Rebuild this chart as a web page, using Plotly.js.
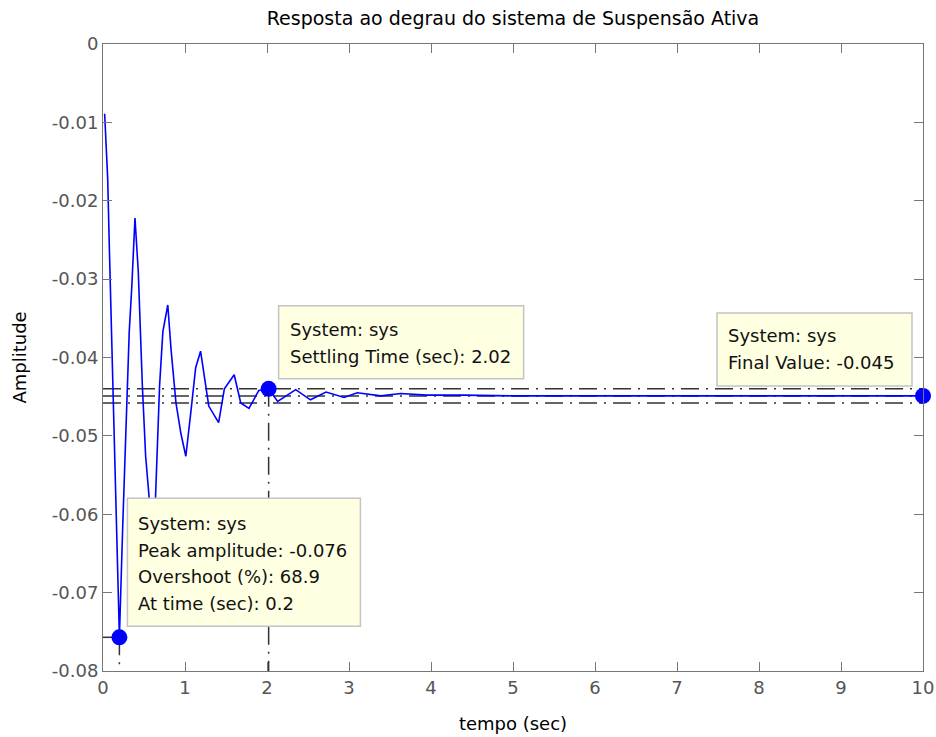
<!DOCTYPE html>
<html>
<head>
<meta charset="utf-8">
<script src="https://cdn.plot.ly/plotly-3.0.1.min.js"></script>
<style>html,body{margin:0;padding:0;background:#fff;}#chart{width:936px;height:737px;}</style>
</head>
<body>
<div id="chart"></div>
<script>
// ---- data ----
const timeSec = [0.02, 0.057, 0.077, 0.097, 0.118, 0.146, 0.167, 0.19, 0.2, 0.24, 0.28, 0.32, 0.35, 0.39,
  0.43, 0.48, 0.52, 0.57, 0.60, 0.64, 0.69, 0.73, 0.79, 0.83, 0.89, 0.95, 1.01, 1.07, 1.13, 1.19,
  1.29, 1.41, 1.48, 1.60, 1.68, 1.78, 1.90, 2.02, 2.13, 2.35, 2.53, 2.72, 2.94, 3.10, 3.39, 3.63,
  3.95, 4.4, 5.0, 10.0];
const amplitude = [-0.0089, -0.0171, -0.0258, -0.0344, -0.0440, -0.0526, -0.0617, -0.0722, -0.0757, -0.0617,
  -0.0480, -0.0367, -0.0312, -0.0222, -0.0290, -0.0436, -0.0526, -0.0590, -0.0625, -0.0580, -0.0436,
  -0.0367, -0.0333, -0.0390, -0.0458, -0.0497, -0.0526, -0.0471, -0.0413, -0.0392, -0.0462, -0.0483,
  -0.0440, -0.0422, -0.0458, -0.0465, -0.0442, -0.0440, -0.0456, -0.0441, -0.0454, -0.0444, -0.0451,
  -0.0445, -0.0449, -0.0446, -0.0448, -0.0448, -0.0449, -0.0449];

const peakTime = 0.2, peakAmp = -0.0757;
const settleTime = 2.02, settleAmp = -0.0440;
const finalTime = 10, finalValue = -0.0449;
const settleUpper = -0.0440, settleLower = -0.0458;

const xTicks = [0,1,2,3,4,5,6,7,8,9,10];
const xTickLabels = ['0','1','2','3','4','5','6','7','8','9','10'];
const yTicks = [0,-0.01,-0.02,-0.03,-0.04,-0.05,-0.06,-0.07,-0.08];
const yTickLabels = ['0','-0.01','-0.02','-0.03','-0.04','-0.05','-0.06','-0.07','-0.08'];

const peakLines = ['System: sys', 'Peak amplitude: -0.076', 'Overshoot (%): 68.9', 'At time (sec): 0.2'];
const settleLines = ['System: sys', 'Settling Time (sec): 2.02'];
const finalLines = ['System: sys', 'Final Value: -0.045'];

const titleText = 'Resposta ao degrau do sistema de Suspensão Ativa';
const xTitle = 'tempo (sec)';
const yTitle = 'Amplitude';

// ---- styles ----
const FONT = 'DejaVu Sans, Verdana, sans-serif';
const refLine = {color: '#333333', width: 1.5, dash: '18px,7px,2px,7px'};
const xMin = xTicks[0], xMax = xTicks[xTicks.length-1];
const yMin = yTicks[yTicks.length-1];

const traces = [
  {x: [xMin, xMax], y: [settleUpper, settleUpper], mode: 'lines', line: refLine, hoverinfo: 'skip'},
  {x: [xMin, xMax], y: [settleLower, settleLower], mode: 'lines', line: refLine, hoverinfo: 'skip'},
  {x: [xMin, xMax], y: [finalValue, finalValue], mode: 'lines', line: refLine, hoverinfo: 'skip'},
  {x: [settleTime, settleTime], y: [settleAmp, yMin], mode: 'lines', line: refLine, hoverinfo: 'skip'},
  {x: [peakTime, peakTime], y: [peakAmp, yMin], mode: 'lines', line: refLine, hoverinfo: 'skip'},
  {x: [xMin, peakTime], y: [peakAmp, peakAmp], mode: 'lines', line: refLine, hoverinfo: 'skip'},
  {x: timeSec, y: amplitude, mode: 'lines', line: {color: '#0000ff', width: 1.6}, name: 'sys'},
  {x: [peakTime, settleTime, finalTime], y: [peakAmp, settleAmp, finalValue], mode: 'markers',
   marker: {color: '#0000ff', size: 16}, cliponaxis: false}
];

// boxes anchored to their data points (pixel offsets)
const boxes = [
  {x: peakTime, y: peakAmp, x0: 8, x1: 241, y0: 11, y1: 139, lines: peakLines, tx: 17, ty0: 114, dy: 26.7},
  {x: settleTime, y: settleAmp, x0: 10, x1: 255, y0: 10, y1: 83, lines: settleLines, tx: 19, ty0: 59, dy: 27},
  {x: finalTime, y: finalValue, x0: -206, x1: -11, y0: 10, y1: 83, lines: finalLines, tx: -197, ty0: 60, dy: 27}
];

const shapes = [];
const annotations = [];
boxes.forEach(b => {
  shapes.push({type: 'rect', xref: 'x', yref: 'y', xsizemode: 'pixel', ysizemode: 'pixel',
    xanchor: b.x, yanchor: b.y, x0: b.x0, x1: b.x1, y0: b.y0, y1: b.y1,
    fillcolor: '#ffffe1', line: {color: '#c4c4c4', width: 1.5}, layer: 'above'});
  b.lines.forEach((txt, i) => {
    annotations.push({x: b.x, y: b.y, xref: 'x', yref: 'y', text: txt, showarrow: false,
      xanchor: 'left', yanchor: 'middle', xshift: b.tx, yshift: b.ty0 - i * b.dy,
      font: {family: FONT, size: 18, color: '#111'}});
  });
});

const layout = {
  width: 936, height: 737,
  margin: {l: 103, r: 13, t: 44, b: 66},
  paper_bgcolor: '#ffffff', plot_bgcolor: '#ffffff',
  showlegend: false,
  font: {family: FONT, size: 18, color: '#000'},
  title: {text: titleText, font: {family: FONT, size: 19, color: '#000'},
          x: 0.5, xref: 'paper', y: 1 - 18/737, yref: 'container', yanchor: 'middle'},
  xaxis: {range: [xMin, xMax], tickvals: xTicks, ticktext: xTickLabels,
          ticks: 'inside', ticklen: 9, tickcolor: '#777', tickwidth: 1,
          showline: true, linecolor: '#777', linewidth: 1, mirror: 'allticks',
          showgrid: false, zeroline: false,
          tickfont: {family: FONT, size: 18, color: '#555'},
          title: {text: xTitle, font: {family: FONT, size: 18, color: '#000'}, standoff: 20}},
  yaxis: {range: [yMin, 0], tickvals: yTicks, ticktext: yTickLabels,
          ticks: 'inside', ticklen: 9, tickcolor: '#777', tickwidth: 1,
          showline: true, linecolor: '#777', linewidth: 1, mirror: 'allticks',
          showgrid: false, zeroline: false,
          tickfont: {family: FONT, size: 18, color: '#555'},
          title: {text: yTitle, font: {family: FONT, size: 18, color: '#000'}, standoff: 20}},
  shapes: shapes,
  annotations: annotations
};

Plotly.newPlot('chart', traces, layout, {displayModeBar: false, staticPlot: true});
</script>
</body>
</html>
